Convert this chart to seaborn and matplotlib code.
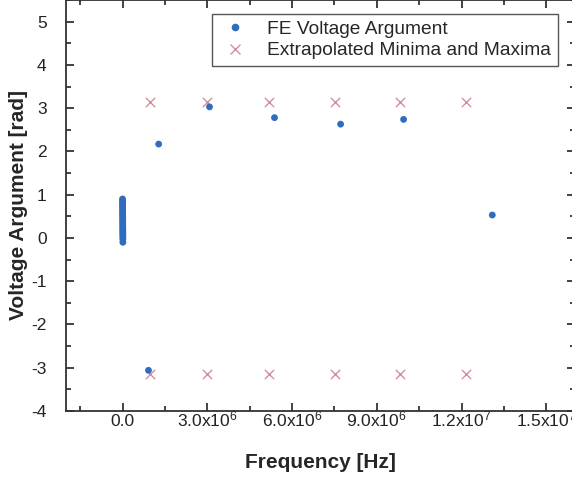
import numpy as np
import pandas as pd
import matplotlib
matplotlib.use("Agg")
import matplotlib.pyplot as plt
import seaborn as sns
from matplotlib.ticker import FixedLocator, FixedFormatter, MultipleLocator
from matplotlib.lines import Line2D

# ---- data ----
# dense cluster of measured points close to 0 Hz
fe_freq_low = [1e3, 1.5e3, 2e3, 2.5e3, 3e3, 3.5e3, 4e3, 4.5e3, 5e3, 5.5e3,
               6e3, 6.5e3, 7e3, 7.5e3, 8e3, 8.5e3, 9e3, 9.5e3, 1.0e4, 1.05e4,
               1.1e4, 1.15e4, 1.2e4, 1.25e4, 1.3e4]
fe_arg_low = [0.90, 0.86, 0.82, 0.78, 0.74, 0.70, 0.66, 0.62, 0.58, 0.54,
              0.50, 0.46, 0.42, 0.38, 0.34, 0.30, 0.26, 0.22, 0.18, 0.14,
              0.10, 0.06, 0.02, -0.03, -0.10]
# isolated measured points
fe_freq_high = [0.92e6, 1.28e6, 3.08e6, 5.38e6, 7.72e6, 9.95e6, 13.09e6]
fe_arg_high = [-3.06, 2.17, 3.03, 2.78, 2.63, 2.74, 0.53]

# extrapolated minima and maxima
ext_freq = [0.98e6, 3.0e6, 5.18e6, 7.51e6, 9.81e6, 12.15e6]
ext_max = [3.1416] * 6
ext_min = [-3.1416] * 6

xtick_values = [0, 3e6, 6e6, 9e6, 1.2e7, 1.5e7]
xtick_labels = ["0.0", r"3.0x10$^{6}$", r"6.0x10$^{6}$", r"9.0x10$^{6}$",
                r"1.2x10$^{7}$", r"1.5x10$^{7}$"]

fe_df = pd.DataFrame({"freq": fe_freq_low + fe_freq_high,
                      "arg": fe_arg_low + fe_arg_high})
ext_df = pd.DataFrame({"freq": ext_freq + ext_freq,
                       "arg": ext_max + ext_min})

# ---- style ----
sns.set_style("ticks")
plt.rcParams["font.family"] = ["Liberation Sans", "DejaVu Sans"]
plt.rcParams["mathtext.fontset"] = "custom"
plt.rcParams["mathtext.rm"] = "Liberation Sans"
plt.rcParams["mathtext.default"] = "regular"
plt.rcParams["axes.unicode_minus"] = False

blue = "#2f6cbf"
pink = "#d48f9d"

fig = plt.figure(figsize=(5.72, 4.78), dpi=100)
ax = fig.add_axes([66 / 572, 67 / 478, 508.5 / 572, 411 / 478])

sns.scatterplot(data=ext_df, x="freq", y="arg", ax=ax, marker="x",
                color=pink, s=45, linewidth=1.0, zorder=2, legend=False)
sns.scatterplot(data=fe_df, x="freq", y="arg", ax=ax, marker="o",
                color=blue, s=24, edgecolor="none", zorder=3, legend=False)

ax.set_xlim(-2e6, 1.6e7)
ax.set_ylim(-4, 5.5)

ax.xaxis.set_major_locator(FixedLocator(xtick_values))
ax.xaxis.set_major_formatter(FixedFormatter(xtick_labels))
ax.xaxis.set_minor_locator(MultipleLocator(1.5e6))
ax.yaxis.set_major_locator(MultipleLocator(1))
ax.yaxis.set_minor_locator(MultipleLocator(0.5))

ax.tick_params(which="both", direction="in", top=True, right=True,
               labelsize=12.5, colors="#222222", width=1.2)
ax.tick_params(which="major", length=6)
ax.tick_params(which="minor", length=3.5)
ax.tick_params(axis="x", pad=11)
ax.tick_params(axis="y", pad=14)
for lab in ax.get_xticklabels():
    lab.set_verticalalignment("baseline")
for sp in ax.spines.values():
    sp.set_visible(True)
    sp.set_linewidth(1.3)
    sp.set_color("#333333")

ax.set_xlabel("Frequency [Hz]", fontsize=15, fontweight="bold", labelpad=17)
ax.set_ylabel("Voltage Argument [rad]", fontsize=15, fontweight="bold", labelpad=2)

handles = [
    Line2D([], [], linestyle="none", marker="o", color=blue, markersize=4.5),
    Line2D([], [], linestyle="none", marker="x", color=pink, markersize=7,
           markeredgewidth=1.0),
]
leg = ax.legend(handles, ["FE Voltage Argument", "Extrapolated Minima and Maxima"],
                loc="upper right", bbox_to_anchor=(0.9675, 0.966),
                borderaxespad=0, fontsize=13.8, frameon=True, fancybox=False,
                framealpha=1, edgecolor="#555555", handletextpad=0.85,
                borderpad=0.35, labelspacing=0.2, handlelength=1.7)
leg.get_frame().set_linewidth(1.0)

fig.savefig("out.png", dpi=100)
